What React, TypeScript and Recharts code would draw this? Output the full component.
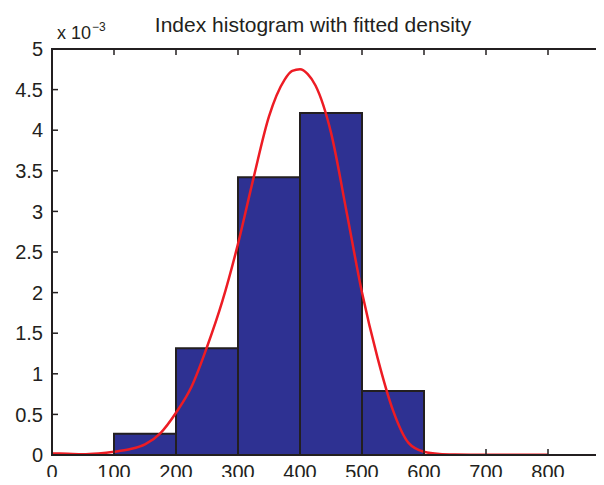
import { ComposedChart, Line, ReferenceArea, XAxis, YAxis } from "recharts";

// histogram bins (edges) and density heights, in units of 1e-3
const BIN_STARTS = [100, 200, 300, 400, 500];
const BIN_ENDS = [200, 300, 400, 500, 600];
const BIN_DENSITY = [0.263, 1.316, 3.421, 4.211, 0.789];

// fitted density curve (x 1e-3)
const CURVE_X = [
  0, 25, 50, 75, 100, 125, 150, 175, 200, 225, 250, 275, 300, 325, 350, 375, 387.5,
  400, 412.5, 425, 450, 475, 500, 525, 550, 575, 600, 625, 650, 675, 700, 725, 750,
  775, 800,
];
const CURVE_Y = [
  0.02, 0.015, 0.01, 0.02, 0.04, 0.07, 0.13, 0.27, 0.52, 0.84, 1.33, 1.9, 2.6, 3.41,
  4.17, 4.62, 4.73, 4.75, 4.69, 4.55, 3.97, 3.0, 2.0, 1.2, 0.55, 0.15, 0.04, 0.012,
  0.005, 0.003, 0.003, 0.003, 0.003, 0.003, 0.003,
];

const X_DOMAIN = [0, 900];
const Y_DOMAIN = [0, 5];
const X_TICKS = [0, 100, 200, 300, 400, 500, 600, 700, 800];
const Y_TICKS = [0, 0.5, 1, 1.5, 2, 2.5, 3, 3.5, 4, 4.5, 5];

const TITLE = "Index histogram with fitted density";

const INK = "#231f20";
const BAR_FILL = "#2e3192";
const CURVE_COLOR = "#ed1c24";
const FONT = "'Liberation Sans', Arial, Helvetica, sans-serif";

const curveData = CURVE_X.map((x, i) => ({ x, density: CURVE_Y[i] }));

const tickStyle = { fill: INK, fontSize: 20, fontFamily: FONT };
const axisLine = { stroke: INK, strokeWidth: 2 };
const tickLine = { stroke: INK, strokeWidth: 1.5 };
const noLabel = () => "";

export default function App() {
  return (
    <div
      style={{
        position: "relative",
        margin: -8,
        width: 604,
        height: 485,
        overflow: "hidden",
        background: "#fff",
        fontFamily: FONT,
        color: INK,
      }}
    >
      <ComposedChart
        width={640}
        height={485}
        data={curveData}
        margin={{ top: 48, right: 29, bottom: 0, left: 0 }}
      >
        <XAxis
          dataKey="x"
          type="number"
          domain={X_DOMAIN}
          ticks={X_TICKS}
          allowDataOverflow
          height={30}
          axisLine={axisLine}
          tickLine={tickLine}
          tickSize={-6}
          tickMargin={16}
          tick={tickStyle}
        />
        {/* box edges: top and right axes, ticks only */}
        <XAxis
          xAxisId="top"
          dataKey="x"
          orientation="top"
          type="number"
          domain={X_DOMAIN}
          ticks={X_TICKS}
          allowDataOverflow
          height={1}
          axisLine={axisLine}
          tickLine={tickLine}
          tickSize={-6}
          tickFormatter={noLabel}
        />
        <YAxis
          type="number"
          domain={Y_DOMAIN}
          ticks={Y_TICKS}
          allowDataOverflow
          width={52}
          axisLine={axisLine}
          tickLine={tickLine}
          tickSize={-6}
          tickMargin={15}
          tick={tickStyle}
        />
        <YAxis
          yAxisId="right"
          orientation="right"
          type="number"
          domain={Y_DOMAIN}
          ticks={Y_TICKS}
          allowDataOverflow
          width={1}
          axisLine={axisLine}
          tickLine={tickLine}
          tickSize={-6}
          tickFormatter={noLabel}
        />
        {/* axes frame */}
        <ReferenceArea
          x1={X_DOMAIN[0]}
          x2={X_DOMAIN[1]}
          y1={Y_DOMAIN[0]}
          y2={Y_DOMAIN[1]}
          fill="none"
          stroke={INK}
          strokeWidth={2}
        />
        {BIN_STARTS.map((start, i) => (
          <ReferenceArea
            key={start}
            x1={start}
            x2={BIN_ENDS[i]}
            y1={0}
            y2={BIN_DENSITY[i]}
            fill={BAR_FILL}
            fillOpacity={1}
            stroke={INK}
            strokeWidth={2}
          />
        ))}
        <Line
          type="monotone"
          dataKey="density"
          stroke={CURVE_COLOR}
          strokeWidth={2.5}
          dot={false}
          activeDot={false}
          isAnimationActive={false}
        />
        {/* invisible copy on the top/right axes so that those axes are drawn */}
        <Line
          xAxisId="top"
          yAxisId="right"
          dataKey="density"
          stroke="none"
          dot={false}
          activeDot={false}
          legendType="none"
          isAnimationActive={false}
        />
      </ComposedChart>

      <div
        style={{
          position: "absolute",
          left: 113,
          top: 14,
          width: 400,
          textAlign: "center",
          fontSize: 21,
          lineHeight: "21px",
          whiteSpace: "nowrap",
        }}
      >
        {TITLE}
      </div>

      <div
        style={{
          position: "absolute",
          left: 57,
          top: 24,
          fontSize: 18,
          lineHeight: "18px",
          whiteSpace: "nowrap",
        }}
      >
        x 10
        <span style={{ position: "relative", top: -8, fontSize: 12, marginLeft: 1 }}>
          −3
        </span>
      </div>
    </div>
  );
}
